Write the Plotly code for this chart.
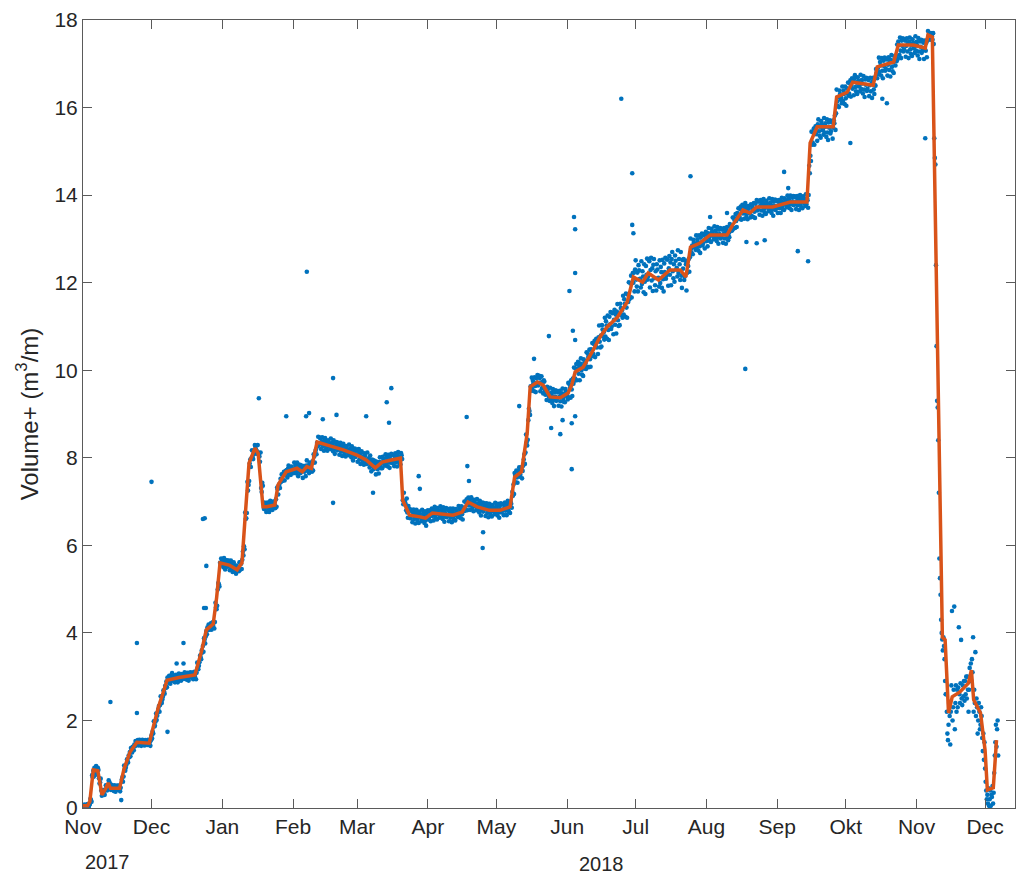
import pandas as pd
import plotly.graph_objects as go

# ---------------- data ----------------
start = pd.Timestamp("2017-11-01")

# smoothed curve (orange): day offset from 2017-11-01, value
line_days = [0, 2, 3, 4, 4.5, 6.5, 8.3, 10, 11, 12, 16, 18, 20.6, 23.6, 29, 31, 33, 35, 36.8, 42, 49,
             52, 54, 57, 58.5, 60, 64, 67.5, 69.6, 71, 72.7, 75.3, 76.7, 78.8, 80.5, 84, 85.4, 89,
             93.7, 96, 98, 100, 102.5, 107, 110, 114, 120, 124, 128, 131, 135, 139, 140, 143, 147.6,
             150, 153, 162, 166, 168.6, 172.6, 178, 182.6, 187, 189, 192, 194.5, 195.8, 199, 201.5,
             204.5, 209, 212.4, 214, 215.5, 219, 223.4, 226.4, 229.5, 234, 238.3, 241, 245, 247.5,
             252, 257, 261.5, 264, 266, 270, 274.6, 282, 284.5, 289, 292, 295, 302, 309.7, 317,
             318.4, 321.5, 328.5, 330, 334.6, 337, 346, 347.8, 355, 357, 363.6, 368.8, 370, 371.9,
             376.3, 377.5, 379, 380.6, 384, 387.7, 389, 390, 393, 395, 396, 398.6, 400]
line_vals = [0.05, 0.05, 0.15, 0.75, 0.87, 0.85, 0.30, 0.45, 0.57, 0.45, 0.45, 0.90, 1.28, 1.50, 1.48, 1.90,
             2.30, 2.62, 2.92, 2.98, 3.04, 3.60, 4.07, 4.20, 4.80, 5.60, 5.55, 5.44, 5.60, 6.65, 7.88,
             8.22, 8.10, 6.88, 6.88, 6.92, 7.38, 7.68, 7.76, 7.68, 7.80, 7.76, 8.36, 8.29, 8.25, 8.18,
             8.06, 7.95, 7.77, 7.90, 7.95, 7.99, 7.03, 6.69, 6.65, 6.62, 6.74, 6.69, 6.76, 6.99, 6.88,
             6.80, 6.80, 6.88, 7.56, 7.68, 8.56, 9.62, 9.73, 9.66, 9.39, 9.37, 9.48, 9.66, 9.96, 10.07,
             10.46, 10.76, 10.99, 11.21, 11.56, 12.13, 12.01, 12.22, 12.06, 12.29, 12.29, 12.13,
             12.81, 12.90, 13.09, 13.09, 13.32, 13.66, 13.59, 13.73, 13.73, 13.84, 13.84, 15.19,
             15.56, 15.56, 16.24, 16.35, 16.58, 16.51, 16.93, 17.04, 17.43, 17.43, 17.36, 17.66,
             17.61, 3.90, 3.84, 2.17, 2.54, 2.65, 2.85, 3.15, 2.47, 2.17, 1.32, 0.41, 0.46, 1.55]

# measurements (blue), four readings per day (00, 06, 12, 18 h)
nov17 = [0.07,0.01,0.05,0.08, 0.03,0.06,0.01,0.07, 0.09,0.04,0.03,0.06, 0.09,0.21,0.18,0.14,
         0.75,0.70,0.85,0.72, 0.92,0.89,0.80,0.96, 0.83,0.76,0.92,0.87, 0.68,0.56,0.58,0.67,
         0.40,0.28,0.36,0.41, 0.35,0.40,0.30,0.42, 0.52,0.43,0.40,0.47, 0.51,0.63,0.60,0.56,
         0.45,0.41,0.53,0.43, 0.49,0.47,0.39,0.52, 0.43,0.37,0.50,0.46, 0.51,0.42,0.43,0.51,
         0.50,0.38,0.46,0.18, 0.65,0.70,0.60,0.72, 0.97,0.88,0.85,0.92, 0.99,1.11,1.08,1.04,
         1.20,1.16,1.28,1.18, 1.37,1.35,1.27,1.40, 1.38,1.32,1.45,1.41, 1.53,1.44,1.45,1.53,
         1.55,1.43,1.51,1.56, 1.47,1.52,1.42,1.54, 1.56,1.47,1.44,1.51, 1.43,1.55,1.52,1.48,
         1.48,1.44,1.56,1.46, 1.52,1.50,1.42,1.55]
dec17 = [1.66,1.59,1.75,1.70, 1.98,1.86,1.88,1.97, 2.16,2.01,2.11,2.18, 2.26,2.33,2.20,2.35,
         2.55,2.44,2.40,2.48, 2.54,2.69,2.66,2.61, 2.79,2.74,2.89,2.76, 2.98,2.95,2.86,3.02,
         2.91,2.84,3.00,2.95, 3.03,2.91,2.93,3.02, 3.02,2.87,2.97,3.04, 2.93,3.00,2.87,3.02,
         3.07,2.96,2.92,3.00, 2.91,3.06,3.03,2.98, 3.00,2.95,3.10,2.97, 3.05,3.02,2.93,3.09,
         2.98,2.91,3.07,3.02, 3.10,2.98,3.00,3.09, 3.09,2.94,3.04,3.11, 3.00,3.07,2.94,3.09,
         3.32,3.21,3.17,3.25, 3.33,3.48,3.45,3.40, 3.60,3.55,3.70,3.57, 3.88,3.85,3.76,3.92,
         4.04,3.97,4.13,4.08, 4.19,4.07,4.09,4.18, 4.22,4.07,4.17,4.24, 4.16,4.23,4.10,4.25,
         4.69,4.58,4.54,4.62, 4.99,5.14,5.11,5.06, 5.60,5.55,5.70,5.57]
jan18 = [5.66,5.62,5.50,5.71, 5.54,5.45,5.66,5.59, 5.66,5.51,5.53,5.65, 5.63,5.43,5.56,5.65,
         5.47,5.56,5.39,5.59, 5.61,5.46,5.41,5.52, 5.35,5.54,5.50,5.44, 5.48,5.41,5.61,5.44,
         5.62,5.58,5.46,5.67, 5.86,5.77,5.98,5.91, 6.75,6.60,6.62,6.74, 7.45,7.25,7.38,7.47,
         7.87,7.96,7.79,7.99, 8.17,8.02,7.97,8.08, 8.10,8.29,8.25,8.19, 8.16,8.09,8.29,8.12,
         8.07,8.03,7.91,8.12, 7.31,7.22,7.43,7.36, 6.98,6.83,6.85,6.97, 6.96,6.76,6.89,6.98,
         6.84,6.93,6.76,6.96, 7.02,6.87,6.82,6.93, 6.81,7.00,6.96,6.90, 6.92,6.85,7.05,6.88,
         7.32,7.28,7.16,7.37, 7.40,7.31,7.52,7.45, 7.62,7.47,7.49,7.61, 7.68,7.48,7.61,7.70,
         7.63,7.72,7.55,7.75, 7.82,7.67,7.62,7.73, 7.61,7.80,7.76,7.70]
feb18 = [7.73,7.65,7.89,7.68, 7.83,7.78,7.64,7.89, 7.69,7.58,7.84,7.76, 7.84,7.65,7.68,7.82,
         7.78,7.54,7.70,7.81, 7.68,7.79,7.58,7.82, 7.94,7.77,7.70,7.83, 7.65,7.89,7.84,7.76,
         7.76,7.68,7.92,7.71, 8.08,8.03,7.89,8.14, 8.19,8.08,8.34,8.26, 8.48,8.29,8.32,8.46,
         8.44,8.20,8.36,8.47, 8.26,8.37,8.16,8.40, 8.45,8.28,8.21,8.34, 8.16,8.40,8.35,8.27,
         8.28,8.20,8.44,8.23, 8.34,8.29,8.15,8.40, 8.20,8.09,8.35,8.27, 8.36,8.17,8.20,8.34,
         8.31,8.07,8.23,8.34, 8.14,8.25,8.04,8.28, 8.32,8.15,8.08,8.21, 8.03,8.27,8.22,8.14,
         8.14,8.06,8.30,8.09, 8.20,8.15,8.01,8.26, 8.05,7.94,8.20,8.12, 8.21,8.02,8.05,8.19]
mar18 = [8.16,7.91,8.08,8.20, 7.96,8.08,7.86,8.12, 8.15,7.97,7.90,8.03, 7.84,8.10,8.05,7.96,
         7.95,7.86,8.12,7.90, 7.99,7.93,7.78,8.05, 7.81,7.69,7.96,7.88, 7.95,7.74,7.78,7.93,
         7.87,7.62,7.79,7.91, 7.74,7.86,7.64,7.90, 8.01,7.83,7.76,7.89, 7.76,8.02,7.97,7.88,
         7.91,7.82,8.08,7.86, 8.01,7.95,7.80,8.07, 7.89,7.77,8.04,7.96, 8.09,7.88,7.92,8.07,
         8.06,7.81,7.98,8.10, 7.90,8.02,7.80,8.06, 8.13,7.95,7.88,8.01, 7.85,8.11,8.06,7.97,
         7.03,6.94,7.20,6.98, 7.01,6.95,6.80,7.07, 6.75,6.63,6.90,6.82, 6.83,6.62,6.66,6.81,
         6.78,6.53,6.70,6.82, 6.60,6.72,6.50,6.76, 6.81,6.63,6.56,6.69, 6.51,6.77,6.72,6.63,
         6.64,6.55,6.81,6.59, 6.72,6.66,6.51,6.78, 6.57,6.45,6.72,6.64]
apr18 = [6.80,6.59,6.63,6.78, 6.80,6.55,6.72,6.84, 6.67,6.79,6.57,6.83, 6.88,6.70,6.63,6.76,
         6.59,6.85,6.80,6.71, 6.72,6.63,6.89,6.67, 6.81,6.75,6.60,6.87, 6.66,6.54,6.81,6.73,
         6.85,6.64,6.68,6.83, 6.80,6.55,6.72,6.84, 6.63,6.75,6.53,6.79, 6.84,6.66,6.59,6.72,
         6.57,6.83,6.78,6.69, 6.73,6.64,6.90,6.68, 6.83,6.77,6.62,6.89, 6.71,6.59,6.86,6.78,
         7.00,6.79,6.83,6.98, 7.05,6.80,6.97,7.09, 6.91,7.03,6.81,7.07, 7.10,6.92,6.85,6.98,
         6.78,7.04,6.99,6.90, 6.89,6.80,7.06,6.84, 6.96,6.90,6.75,7.02, 6.80,6.68,6.95,6.87,
         6.98,6.77,6.81,6.96, 6.92,6.67,6.84,6.96, 6.74,6.86,6.64,6.90, 6.95,6.77,6.70,6.83,
         6.66,6.92,6.87,6.78, 6.80,6.71,6.97,6.75]
may18 = [6.89,6.83,6.68,6.95, 6.75,6.63,6.90,6.82, 6.96,6.75,6.79,6.94, 6.94,6.69,6.86,6.98,
         6.79,6.91,6.69,6.95, 7.02,6.84,6.77,6.90, 6.74,7.00,6.95,6.86, 7.22,7.13,7.39,7.17,
         7.65,7.59,7.44,7.71, 7.55,7.43,7.70,7.62, 7.78,7.57,7.61,7.76, 7.78,7.53,7.70,7.82,
         7.96,8.08,7.86,8.12, 8.53,8.35,8.28,8.41, 8.86,9.12,9.07,8.98, 9.63,9.53,9.83,9.57,
         9.76,9.70,9.52,9.84, 9.64,9.50,9.82,9.72, 9.89,9.65,9.69,9.87, 9.82,9.52,9.72,9.86,
         9.59,9.73,9.47,9.77, 9.74,9.52,9.44,9.60, 9.32,9.62,9.56,9.46, 9.40,9.30,9.60,9.34,
         9.49,9.43,9.25,9.57, 9.32,9.18,9.50,9.40, 9.54,9.30,9.34,9.52, 9.49,9.19,9.39,9.53,
         9.29,9.43,9.17,9.47, 9.58,9.36,9.28,9.44, 9.27,9.57,9.51,9.41]
jun18 = [9.46,9.33,9.71,9.38, 9.68,9.60,9.37,9.77, 9.56,9.41,9.81,9.69, 10.06,9.76,9.81,10.04,
         10.14,9.77,10.02,10.19, 9.92,10.10,9.77,10.15, 10.27,10.00,9.90,10.10, 9.87,10.25,10.17,10.04,
         10.16,10.03,10.41,10.08, 10.38,10.30,10.07,10.47, 10.25,10.08,10.48,10.36,
         10.62,10.32,10.37,10.60, 10.67,10.30,10.55,10.72, 10.52,10.70,10.37,10.75,
         11.02,10.65,10.52,10.79, 10.54,11.03,10.93,10.77, 10.87,10.70,11.20,10.77,
         11.12,11.02,10.72,11.25, 10.92,10.69,11.22,11.05, 11.33,10.94,11.00,11.30,
         11.32,10.82,11.15,11.38, 11.04,11.27,10.84,11.34, 11.51,11.14,11.01,11.28,
         11.03,11.52,11.42,11.26, 11.37,11.20,11.70,11.27, 11.62,11.52,11.22,11.75,
         11.43,11.20,11.73,11.56, 12.01,11.62,11.68,11.98, 12.16,11.66,11.99,12.22,
         12.00,12.23,11.80,12.30]
jul18 = [12.51,12.07,11.91,12.23, 11.80,12.40,12.28,12.08, 12.09,11.89,12.49,11.97,
         12.26,12.14,11.78,12.42, 12.02,11.74,12.38,12.18, 12.55,12.07,12.15,12.51,
         12.49,11.89,12.29,12.57, 12.05,12.33,11.81,12.41, 12.54,12.10,11.94,12.26,
         11.82,12.42,12.30,12.10, 12.11,11.91,12.51,11.99, 12.36,12.24,11.88,12.52,
         12.08,11.80,12.44,12.24, 12.57,12.09,12.17,12.53, 12.53,11.93,12.33,12.61,
         12.18,12.46,11.94,12.54, 12.70,12.26,12.10,12.42, 12.02,12.62,12.50,12.30,
         12.34,12.14,12.74,12.22, 12.54,12.42,12.06,12.70, 12.16,11.88,12.52,12.32,
         12.54,12.06,12.14,12.50, 12.42,11.82,12.22,12.50, 12.38,12.54,12.25,12.58,
         13.01,12.77,12.68,12.85, 12.65,12.98,12.92,12.81, 12.86,12.75,13.08,12.79,
         12.99,12.92,12.73,13.08, 12.83,12.68,13.03,12.92, 13.12,12.85,12.90,13.09,
         13.11,12.78,13.00,13.16]
aug18 = [12.95,13.09,12.83,13.13, 13.25,13.03,12.95,13.11, 12.93,13.23,13.17,13.07,
         13.09,12.99,13.29,13.03, 13.19,13.13,12.95,13.27, 13.03,12.89,13.21,13.11,
         13.25,13.01,13.05,13.23, 13.21,12.91,13.11,13.25, 13.01,13.15,12.89,13.19,
         13.27,13.05,12.97,13.13, 13.04,13.34,13.28,13.18, 13.29,13.19,13.49,13.23,
         13.49,13.43,13.25,13.57, 13.41,13.27,13.59,13.49, 13.70,13.46,13.50,13.68,
         13.74,13.44,13.64,13.78, 13.58,13.72,13.46,13.76, 13.82,13.60,13.52,13.68,
         13.45,13.75,13.69,13.59, 13.59,13.49,13.79,13.53, 13.74,13.68,13.50,13.82,
         13.62,13.48,13.80,13.70, 13.89,13.65,13.69,13.87, 13.85,13.55,13.75,13.89,
         13.65,13.79,13.53,13.83, 13.91,13.69,13.61,13.77, 13.57,13.87,13.81,13.71,
         13.73,13.63,13.93,13.67, 13.83,13.77,13.59,13.91, 13.67,13.53,13.85,13.75,
         13.90,13.66,13.70,13.88]
sep18 = [13.86,13.59,13.77,13.89, 13.70,13.82,13.59,13.86, 13.94,13.74,13.67,13.82,
         13.66,13.93,13.87,13.78, 13.81,13.72,13.99,13.76, 13.92,13.87,13.70,13.99,
         13.79,13.66,13.95,13.86, 13.98,13.77,13.80,13.97, 13.95,13.68,13.86,13.98,
         13.77,13.89,13.66,13.93, 14.00,13.80,13.73,13.88, 13.70,13.97,13.91,13.82,
         13.84,13.75,14.02,13.79, 13.93,13.88,13.71,14.00, 14.67,14.50,14.90,14.78,
         15.45,15.15,15.20,15.43, 15.52,15.15,15.40,15.57, 15.39,15.57,15.24,15.62,
         15.73,15.46,15.36,15.56, 15.31,15.69,15.61,15.48, 15.51,15.38,15.76,15.43,
         15.64,15.56,15.33,15.73, 15.43,15.26,15.66,15.54, 15.71,15.41,15.46,15.69,
         15.66,15.29,15.54,15.71, 15.64,15.82,15.49,15.87, 16.41,16.14,16.04,16.24,
         16.01,16.39,16.31,16.18, 16.23,16.10,16.48,16.15, 16.39,16.31,16.08,16.48]
oct18 = [16.21,16.04,16.44,16.32, 16.57,16.27,16.32,16.55, 16.62,16.25,16.50,16.67,
         16.43,16.61,16.28,16.66, 16.74,16.47,16.37,16.57, 16.31,16.69,16.61,16.48,
         16.50,16.37,16.75,16.42, 16.63,16.55,16.32,16.72, 16.41,16.24,16.64,16.52,
         16.68,16.38,16.43,16.66, 16.63,16.26,16.51,16.68, 16.37,16.55,16.22,16.60,
         16.68,16.41,16.31,16.51, 16.50,16.88,16.80,16.67, 16.89,16.76,17.14,16.81,
         17.04,16.96,16.73,17.13, 16.84,16.67,17.07,16.95, 17.14,16.84,16.89,17.12,
         17.10,16.73,16.98,17.15, 16.86,17.04,16.71,17.09, 17.20,16.93,16.83,17.03,
         16.79,17.17,17.09,16.96, 17.19,17.06,17.44,17.11, 17.51,17.43,17.20,17.60,
         17.30,17.13,17.53,17.41, 17.58,17.28,17.33,17.56, 17.53,17.16,17.41,17.58,
         17.28,17.46,17.13,17.51, 17.60,17.33,17.23,17.43, 17.18,17.56,17.48,17.35,
         17.38,17.25,17.63,17.30]
nov18 = [17.50,17.42,17.19,17.59, 17.28,17.11,17.51,17.39, 17.55,17.25,17.30,17.53,
         17.48,17.11,17.36,17.53, 17.30,17.48,17.15,17.53, 17.75,17.64,17.60,17.68,
         17.55,17.70,17.67,17.62, 17.55,17.70,17.45,15.30, 14.85,14.70,12.40,10.55,
         9.30,9.15,8.40,7.20, 5.70,5.25,4.87,4.30, 4.00,3.85,3.60,3.90,
         3.70,3.40,2.90,2.60, 2.60,2.20,1.70,1.55, 1.90,2.40,2.10,1.45,
         2.20,2.80,4.50,2.00, 2.30,2.70,4.60,1.80, 2.40,2.80,2.20,2.70,
         2.30,2.75,4.13,2.60, 2.40,2.85,3.84,2.50, 2.35,2.80,2.55,2.90,
         2.45,2.90,2.60,3.00, 2.50,3.00,2.70,2.20, 2.70,3.20,2.90,3.30,
         2.90,3.40,3.10,3.90, 2.20,2.70,2.40,3.56, 2.10,2.50,2.30,1.70,
         2.00,2.40,2.20,1.80, 1.90,2.30,2.10,1.60, 1.30,1.70,1.10,1.50]
dec18 = [0.90,0.60,0.40,0.20, 0.30,0.10,0.45,0.05, 0.20,0.40,0.05,0.30,
         0.25,0.50,0.10,0.35, 0.80,1.20,1.50,1.90, 1.40,1.80,2.00,1.20]

# isolated outliers: day offset, value
out_days = [12, 23.6, 23.6, 30, 37, 39, 41, 44, 44, 53, 53.8, 52.5, 53.3, 54, 77, 89, 97.7, 99, 98,
            105, 109.5, 111, 109.5, 124, 127, 133, 135, 134, 147, 147.5, 168, 168.3, 169, 175,
            175.2, 191, 197.5, 204, 205, 209, 210, 214.5, 214, 215.5, 214, 215, 215.5, 215.5, 213,
            215.5, 240.5, 241, 235.7, 240.5, 266, 290, 313, 317.5, 274.6, 282, 290.5, 295, 298.5,
            307, 308.8, 336, 368.8, 350, 352]
out_vals = [2.42, 3.77, 2.17, 7.45, 1.74, 3.08, 3.30, 3.77, 3.30, 4.57, 4.57, 6.60, 6.62, 5.53, 9.36,
            8.95, 8.95, 9.02, 12.25, 8.88, 9.82, 8.98, 6.97, 8.95, 7.20, 9.27, 9.59, 8.80, 7.58,
            7.29, 8.93, 7.81, 7.47, 5.94, 6.30, 9.18, 10.26, 10.78, 8.68, 8.54, 8.86, 10.90, 8.79,
            8.95, 7.74, 13.50, 13.22, 12.22, 11.81, 10.69, 13.32, 13.13, 16.20, 14.50, 14.43,
            10.03, 12.72, 12.49, 13.50, 13.59, 12.93, 12.90, 12.97, 14.53, 14.16, 15.19, 15.30,
            16.20, 16.10]

month_ticks = ["2017-11-01", "2017-12-01", "2018-01-01", "2018-02-01", "2018-03-01", "2018-04-01",
               "2018-05-01", "2018-06-01", "2018-07-01", "2018-08-01", "2018-09-01", "2018-10-01",
               "2018-11-01", "2018-12-01"]
month_labels = ["Nov", "Dec", "Jan", "Feb", "Mar", "Apr", "May", "Jun", "Jul", "Aug", "Sep", "Okt",
                "Nov", "Dec"]
y_title = "Volume+ (m<sup>3</sup>/m)"

# ---------------- build ----------------
meas = (nov17 + dec17 + jan18 + feb18 + mar18 + apr18 + may18 + jun18 + jul18 + aug18 + sep18
        + oct18 + nov18 + dec18)
meas_t = pd.date_range(start, periods=len(meas), freq="6h")
out_t = [start + pd.Timedelta(days=d) for d in out_days]
line_t = [start + pd.Timedelta(days=d) for d in line_days]

blue = "#0072BD"
orange = "#D95319"
font_fam = "Liberation Sans, Arial, Helvetica, sans-serif"
axis_col = "#5a5a5a"
txt_col = "#262626"

fig = go.Figure()
fig.add_trace(go.Scatter(x=list(meas_t) + out_t, y=meas + out_vals, mode="markers",
                         marker=dict(color=blue, size=4.6, line=dict(width=0)),
                         showlegend=False, hoverinfo="skip"))
fig.add_trace(go.Scatter(x=line_t, y=line_vals, mode="lines",
                         line=dict(color=orange, width=3.5), showlegend=False))

x_end = start + pd.Timedelta(days=408.1)
fig.update_layout(
    width=1019, height=876,
    margin=dict(l=83, r=4, t=20, b=68),
    paper_bgcolor="white", plot_bgcolor="white",
    font=dict(family=font_fam, color=txt_col, size=22),
    xaxis=dict(range=[start, x_end], tickvals=month_ticks, ticktext=month_labels,
               ticks="inside", ticklen=9, tickcolor=axis_col, showline=True, linecolor=axis_col,
               linewidth=1, mirror="ticks", showgrid=False, zeroline=False,
               tickfont=dict(size=21, color=txt_col)),
    yaxis=dict(range=[0, 18], dtick=2, ticks="inside", ticklen=9, tickcolor=axis_col,
               showline=True, linecolor=axis_col, linewidth=1, mirror="ticks", showgrid=False,
               zeroline=False, tickfont=dict(size=21, color=txt_col),
               title=dict(text=y_title, font=dict(size=24, color=txt_col), standoff=9)),
    annotations=[
        dict(text="2017", x=(107 - 83) / 932, y=-0.0685, xref="paper", yref="paper",
             showarrow=False, font=dict(size=20, color=txt_col), xanchor="center", yanchor="middle"),
        dict(text="2018", x=(601 - 83) / 932, y=-0.0711, xref="paper", yref="paper",
             showarrow=False, font=dict(size=20, color=txt_col), xanchor="center", yanchor="middle"),
    ],
)
fig.write_html("out.html")
